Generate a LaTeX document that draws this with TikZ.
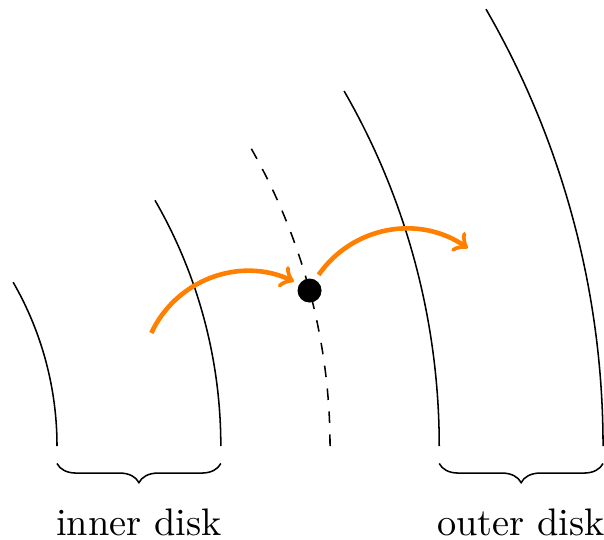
\documentclass[tikz,border=0pt]{standalone}
\usetikzlibrary{decorations.pathreplacing}
\begin{document}
\begin{tikzpicture}[
  ring/.style={black},
  flow/.style={->, draw={rgb,255:red,255;green,128;blue,0}, very thick},
  bracedec/.style={decorate, decoration={brace, mirror, amplitude=5pt}},
  lbl/.style={inner sep=0pt}
]
\useasboundingbox (2.478,-0.852) rectangle (8.009,4.084);
\draw[ring] (3,0) arc (0:30:3);
\draw[ring] (4.5,0) arc (0:30:4.5);
\draw[ring, dashed] (5.5,0) arc (0:30:5.5);
\draw[ring] (6.5,0) arc (0:30:6.5);
\draw[ring] (8,0) arc (0:30:8);
\node[circle, fill, minimum size=0.22cm, inner sep=0pt, outer sep=1.6pt] (dot) at (15:5.5) {};
\coordinate (s) at (15:4);
\coordinate (e) at (15:7);
\draw[flow] (s) to[bend left=45] (dot);
\draw[flow] (dot) to[bend left=45] (e);
\coordinate (b1) at (3,-0.16);
\coordinate (b2) at (4.5,-0.16);
\coordinate (b3) at (6.5,-0.16);
\coordinate (b4) at (8,-0.16);
\draw[bracedec] (b1) -- (b2);
\draw[bracedec] (b3) -- (b4);
\node[lbl] (inner) at (3.75,-0.70) {inner disk};
\node[lbl] (outer) at (7.25,-0.70) {outer disk};
\end{tikzpicture}
\end{document}
